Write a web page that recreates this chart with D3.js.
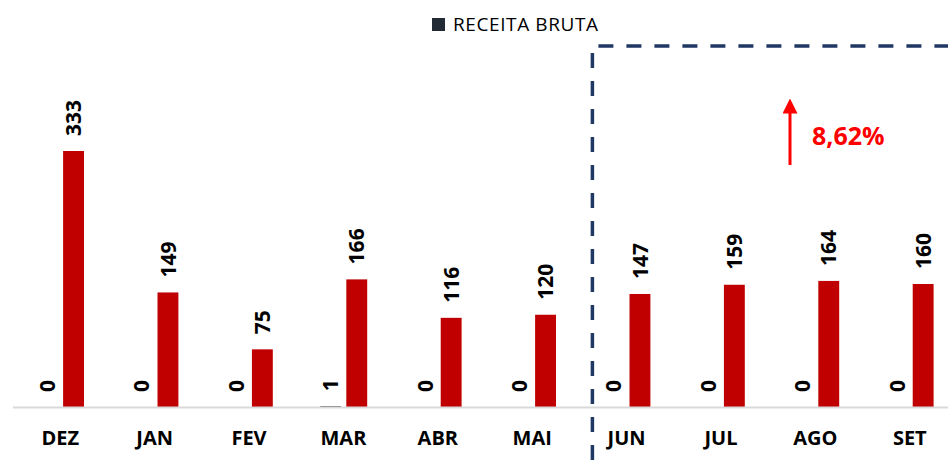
<!DOCTYPE html>
<html>
<head>
<meta charset="utf-8">
<script src="https://cdn.jsdelivr.net/npm/d3@7"></script>
<style>
  body { margin: 0; background: #fff; overflow: hidden; }
  text { font-family: "Open Sans", sans-serif; }
</style>
</head>
<body>
<div id="container"></div>
<script>
/* DATA */
const months = ["DEZ", "JAN", "FEV", "MAR", "ABR", "MAI", "JUN", "JUL", "AGO", "SET"];
const seriesNames = ["RECEITA BRUTA", "RECEITA"];
const receitaBruta = [0, 0, 0, 1, 0, 0, 0, 0, 0, 0];
const receita = [333, 149, 75, 166, 116, 120, 147, 159, 164, 160];
const growthLabel = "8,62%";

/* CONSTANTS */
const width = 948;
const height = 460;
const baseY = 407;

const data = months.map((m, i) => ({
  month: m,
  values: [
    { key: seriesNames[0], value: receitaBruta[i] },
    { key: seriesNames[1], value: receita[i] }
  ]
}));

/* SCALES */
const xScale = d3.scaleBand()
  .domain(months)
  .range([13, 957])
  .padding(0);

const xInner = d3.scaleBand()
  .domain(seriesNames)
  .range([24, 71])
  .paddingInner(0.2);

const yScale = d3.scaleLinear()
  .domain([0, d3.max(receita)])
  .range([baseY, 151]);

const colorScale = d3.scaleOrdinal()
  .domain(seriesNames)
  .range(["#222a35", "#c00000"]);

/* SVG */
const svg = d3.select("#container")
  .append("svg")
  .attr("width", width)
  .attr("height", height);

// bars
const groups = svg.selectAll("g.month")
  .data(data)
  .join("g")
  .attr("class", "month")
  .attr("transform", d => `translate(${xScale(d.month)},0)`);

groups.selectAll("rect")
  .data(d => d.values)
  .join("rect")
  .attr("x", d => xInner(d.key))
  .attr("y", d => yScale(d.value))
  .attr("width", xInner.bandwidth())
  .attr("height", d => baseY - yScale(d.value))
  .attr("fill", d => colorScale(d.key));

// value labels (rotated)
groups.selectAll("text.val")
  .data(d => d.values)
  .join("text")
  .attr("class", "val")
  .attr("transform", d => `translate(${xInner(d.key) + xInner.bandwidth() / 2},${yScale(d.value) - 15}) rotate(-90)`)
  .attr("dy", "0.36em")
  .attr("text-anchor", "start")
  .style("font-size", "21px")
  .style("font-weight", "bold")
  .style("fill", "#000")
  .text(d => d.value);

// x axis
const xAxis = svg.append("g")
  .attr("transform", `translate(0,${baseY})`)
  .call(d3.axisBottom(xScale).tickSize(0).tickPadding(24));

xAxis.select(".domain")
  .attr("d", `M13,0.5H${width}`)
  .attr("stroke", "#d9d9d9")
  .attr("stroke-width", 2);

xAxis.selectAll(".tick text")
  .style("font-family", "'Open Sans', sans-serif")
  .style("font-size", "20px")
  .style("font-weight", "bold")
  .style("fill", "#000");

// dashed box around forecast months
const boxX = xScale("JUN") + 13;
svg.append("path")
  .attr("d", `M${boxX},${height}V46H${width}`)
  .attr("fill", "none")
  .attr("stroke", "#203864")
  .attr("stroke-width", 3.5)
  .attr("stroke-dasharray", "15,13");

// growth arrow
svg.append("defs").append("marker")
  .attr("id", "arrow")
  .attr("viewBox", "0 0 10 10")
  .attr("refX", 5)
  .attr("refY", 5)
  .attr("markerWidth", 5)
  .attr("markerHeight", 5)
  .attr("orient", "auto")
  .append("path")
  .attr("d", "M0,0L10,5L0,10Z")
  .attr("fill", "#ff0000");

svg.append("line")
  .attr("x1", 790).attr("y1", 165)
  .attr("x2", 790).attr("y2", 106)
  .attr("stroke", "#ff0000")
  .attr("stroke-width", 3)
  .attr("marker-end", "url(#arrow)");

svg.append("text")
  .attr("x", 812)
  .attr("y", 145)
  .style("font-size", "25px")
  .style("font-weight", "bold")
  .style("fill", "#ff0000")
  .text(growthLabel);

// legend
const legend = svg.append("g").attr("transform", "translate(432,18)");
legend.append("rect")
  .attr("width", 13)
  .attr("height", 13)
  .attr("fill", colorScale(seriesNames[0]));
legend.append("text")
  .attr("x", 21)
  .attr("y", 13)
  .style("font-size", "19px")
  .style("letter-spacing", "0.6px")
  .style("fill", "#000")
  .text(seriesNames[0]);
</script>
</body>
</html>
